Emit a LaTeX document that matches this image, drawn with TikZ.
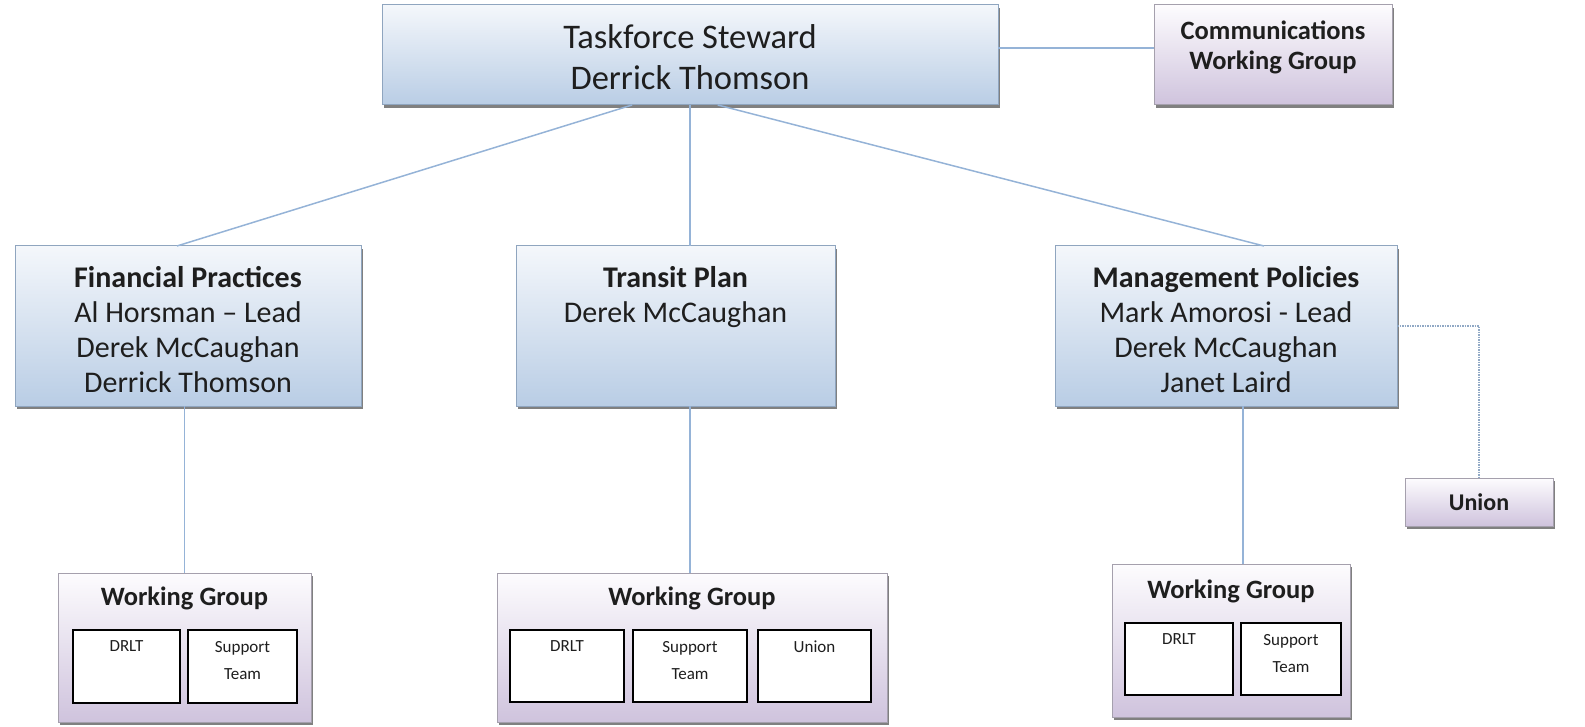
\documentclass[tikz,border=0pt]{standalone}
\usepackage{fontspec}
\setmainfont{Carlito}
\usetikzlibrary{shadows,calc}
\definecolor{connc}{HTML}{95B3D7}
\definecolor{bluetop}{HTML}{F4F7FB}
\definecolor{bluebot}{HTML}{B9CDE5}
\definecolor{bluebrd}{HTML}{8FA5BF}
\definecolor{purtop}{HTML}{FDFCFE}
\definecolor{purbot}{HTML}{CFC3DD}
\definecolor{purbrd}{HTML}{A5A0AD}
\definecolor{txt}{HTML}{1E1E1E}
\begin{document}
\begin{tikzpicture}[x=1pt,y=-1pt,
  every node/.style={inner sep=0pt, outer sep=0pt, text=txt},
  shbox/.style={draw, line width=1pt, drop shadow={shadow xshift=1.5pt, shadow yshift=-3pt, fill=black!50, opacity=1}},
  bluebox/.style={shbox, draw=bluebrd, top color=bluetop, bottom color=bluebot},
  purbox/.style={shbox, draw=purbrd, top color=purtop, bottom color=purbot},
  innerbox/.style={draw=black, line width=1.6pt, fill=white},
  conn/.style={draw=connc, line width=1.5pt},
  dotconn/.style={draw=connc!80!gray, line width=1.5pt, densely dotted},
  toptext/.style={align=center, font=\fontsize{34.5}{41}\selectfont},
  midtext/.style={align=center, anchor=north, font=\fontsize{30}{35}\selectfont},
  boldtext/.style={align=center, font=\fontsize{26.5}{30}\selectfont\bfseries},
  uniontext/.style={align=center, font=\fontsize{24}{30}\selectfont\bfseries},
  smalltext/.style={align=center, anchor=north, font=\fontsize{17}{27}\selectfont},
]
\useasboundingbox (0,0) rectangle (1585,727);

% main boxes
\node[bluebox, minimum width=616pt, minimum height=100pt] (top) at (690,55) {};
\node[purbox, minimum width=238pt, minimum height=100pt] (comm) at (1273,55) {};
\node[bluebox, minimum width=346pt, minimum height=160pt] (fin) at (188,326) {};
\node[bluebox, minimum width=319pt, minimum height=160pt] (tra) at (675.5,326) {};
\node[bluebox, minimum width=342pt, minimum height=160pt] (mgt) at (1226,326) {};
\node[purbox, minimum width=148pt, minimum height=48pt] (uni) at (1479,502) {};
\node[purbox, minimum width=253pt, minimum height=149pt] (wg1) at (184.5,647.5) {};
\node[purbox, minimum width=390pt, minimum height=149pt] (wg2) at (692,647.5) {};
\node[purbox, minimum width=238pt, minimum height=153pt] (wg3) at (1231,640.5) {};

% inner boxes
\node[innerbox, minimum width=107pt, minimum height=73pt] (d1) at (126.5,666.5) {};
\node[innerbox, minimum width=109pt, minimum height=73pt] (s1) at (242.5,666.5) {};
\node[innerbox, minimum width=114pt, minimum height=72pt] (d2) at (567,666) {};
\node[innerbox, minimum width=114pt, minimum height=72pt] (s2) at (690,666) {};
\node[innerbox, minimum width=113pt, minimum height=72pt] (u2) at (814.5,666) {};
\node[innerbox, minimum width=108pt, minimum height=72pt] (d3) at (1179,659) {};
\node[innerbox, minimum width=100pt, minimum height=72pt] (s3) at (1291,659) {};

% texts
\node[toptext] (ttop) at (690,57) {Taskforce Steward\\Derrick Thomson};
\node[boldtext] (tcomm) at (1273,47) {Communications\\Working Group};
\node[midtext] (tfin) at (188,266) {\textbf{Financial Practices}\\Al Horsman -- Lead\\Derek McCaughan\\Derrick Thomson};
\node[midtext] (ttra) at (675.5,266) {\textbf{Transit Plan}\\Derek McCaughan};
\node[midtext] (tmgt) at (1226,266) {\textbf{Management Policies}\\Mark Amorosi - Lead\\Derek McCaughan\\Janet Laird};
\node[uniontext] (tuni) at (1479,502) {Union};
\node[boldtext] (twg1) at (184.5,598) {Working Group};
\node[boldtext] (twg2) at (692,598) {Working Group};
\node[boldtext] (twg3) at (1231,591) {Working Group};
\node[smalltext] (td1) at ([yshift=-11pt]d1.north) {DRLT};
\node[smalltext] (ts1) at ([yshift=-11pt]s1.north) {Support\\Team};
\node[smalltext] (td2) at ([yshift=-11pt]d2.north) {DRLT};
\node[smalltext] (ts2) at ([yshift=-11pt]s2.north) {Support\\Team};
\node[smalltext] (tu2) at ([yshift=-11pt]u2.north) {Union};
\node[smalltext] (td3) at ([yshift=-11pt]d3.north) {DRLT};
\node[smalltext] (ts3) at ([yshift=-11pt]s3.north) {Support\\Team};

% connectors
\coordinate (a1) at ($(top.south west)!0.406!(top.south east)$);
\coordinate (b1) at ($(fin.north west)!0.468!(fin.north east)$);
\coordinate (a3) at ($(top.south west)!0.545!(top.south east)$);
\coordinate (b3) at ($(mgt.north west)!0.611!(mgt.north east)$);
\coordinate (m1) at ($(mgt.south west)!0.55!(mgt.south east)$);
\draw[conn] (a1) -- (b1);
\draw[conn] (top.south) -- (top.south |- tra.north);
\draw[conn] (a3) -- (b3);
\draw[conn] ([yshift=7pt]top.east) -- ([yshift=7pt]comm.west);
\draw[conn] (wg1.north |- fin.south) -- (wg1.north);
\draw[conn] (top.south |- tra.south) -- (top.south |- wg2.north);
\draw[conn] (m1) -- (m1 |- wg3.north);
\draw[dotconn] (mgt.east) -| (uni.north);
\end{tikzpicture}
\end{document}
